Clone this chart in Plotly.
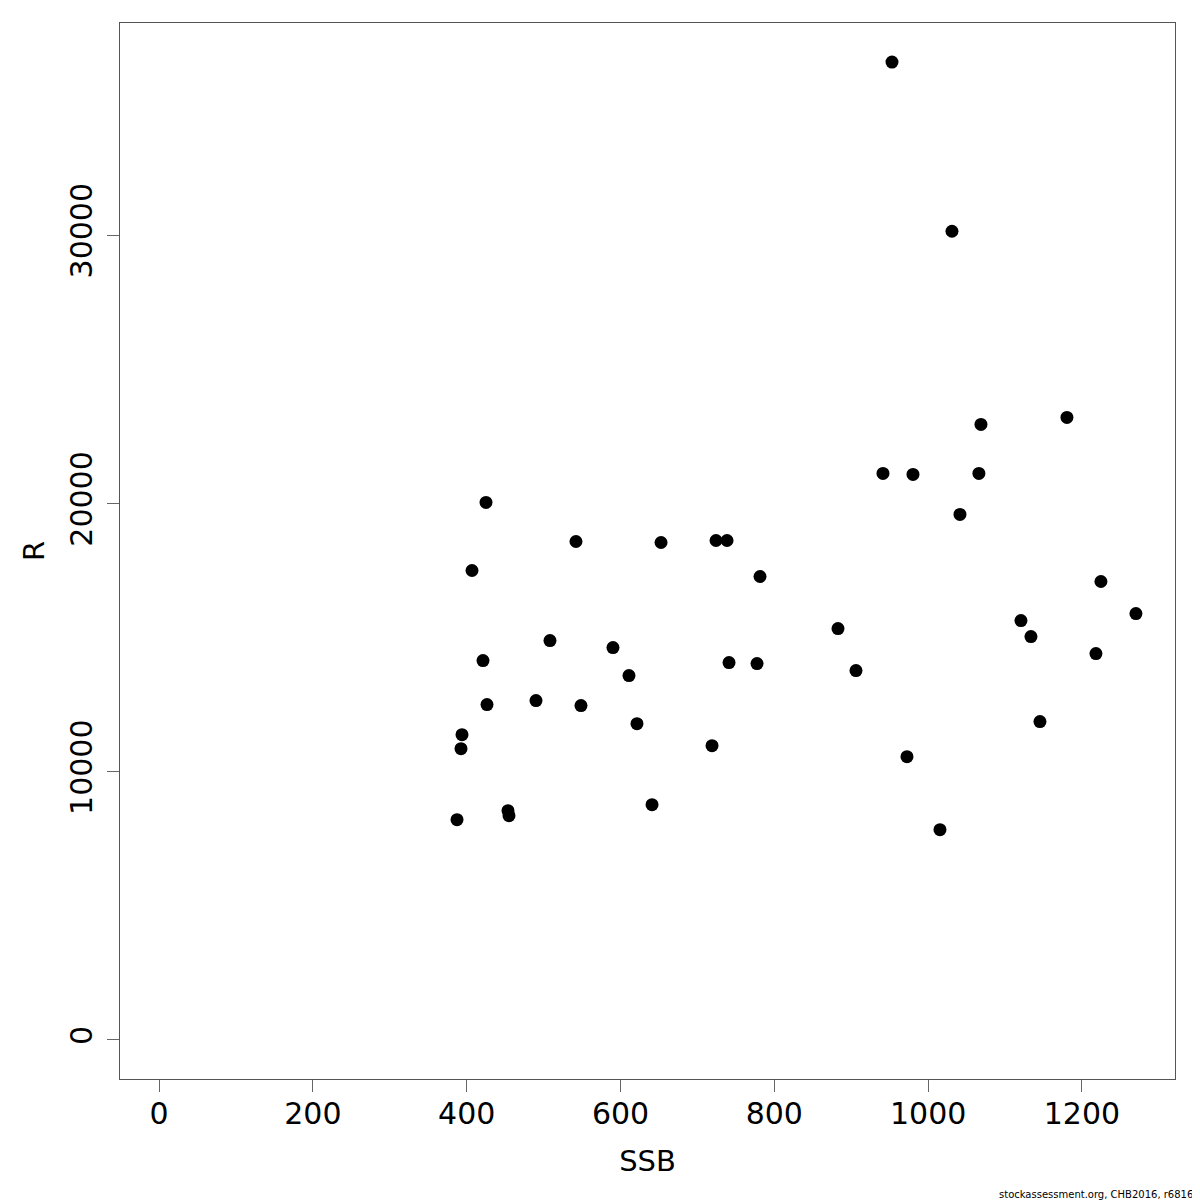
import plotly.graph_objects as go

ssb = [953, 1031, 1180.5, 1068.7, 941.3, 980.3, 1066, 1041.4, 425.1, 542.1,
       652.7, 724.2, 738.5, 781.4, 406.9, 1224.7, 1270.2, 1120.7, 882.8, 1133.7,
       508.3, 590.2, 1218.2, 421.2, 741.1, 777.5, 906.2, 611.0, 490.1, 426.4,
       548.6, 621.4, 1145.4, 393.9, 392.6, 719.0, 972.5, 453.7, 455.0, 641.0,
       387.4, 1015.4]
rec = [36455, 30149, 23209, 22948, 21119, 21082, 21119, 19590, 20037, 18582,
       18545, 18619, 18619, 17276, 17500, 17090, 15896, 15634, 15336, 15037,
       14888, 14627, 14403, 14142, 14067, 14030, 13769, 13582, 12649, 12500,
       12463, 11791, 11866, 11381, 10858, 10970, 10560, 8545, 8358, 8769,
       8209, 7836]

x_ticks = [0, 200, 400, 600, 800, 1000, 1200]
y_ticks = [0, 10000, 20000, 30000]

xmax = max(ssb)
ymax = max(rec)

fig = go.Figure(go.Scatter(
    x=ssb, y=rec, mode="markers",
    marker=dict(color="black", size=13, line=dict(width=0)),
    showlegend=False,
))

tfont = dict(family="DejaVu Sans", size=30, color="black")
lfont = dict(family="DejaVu Sans", size=29, color="black")

fig.update_layout(
    width=1192, height=1192,
    paper_bgcolor="white", plot_bgcolor="white",
    margin=dict(l=112, r=25, t=15, b=121),
    font=tfont,
    xaxis=dict(
        range=[-0.04 * xmax, xmax * 1.04],
        tickvals=x_ticks, ticktext=[str(v) for v in x_ticks],
        ticks="outside", ticklen=12, tickcolor="#666", tickwidth=1,
        showgrid=False, zeroline=False,
        showline=True, linecolor="#555", linewidth=1, mirror=True,
        ticklabelstandoff=-4,
        title=dict(text="SSB", font=lfont, standoff=20),
        tickfont=tfont,
    ),
    yaxis=dict(
        range=[-0.04 * ymax, ymax * 1.04],
        tickvals=y_ticks, ticktext=[str(v) for v in y_ticks],
        tickangle=-90,
        ticks="outside", ticklen=12, tickcolor="#666", tickwidth=1,
        showgrid=False, zeroline=False,
        showline=True, linecolor="#555", linewidth=1, mirror=True,
        ticklabelstandoff=3,
        title=dict(text="R", font=lfont, standoff=10),
        tickfont=tfont,
    ),
    annotations=[dict(
        text="stockassessment.org, CHB2016, r6816",
        xref="paper", yref="paper", x=1.0, y=0, yshift=-108,
        xanchor="right", yanchor="top", showarrow=False,
        font=dict(family="DejaVu Sans", size=10, color="black"),
        xshift=20,
    )],
)

fig.write_html("out.html")
